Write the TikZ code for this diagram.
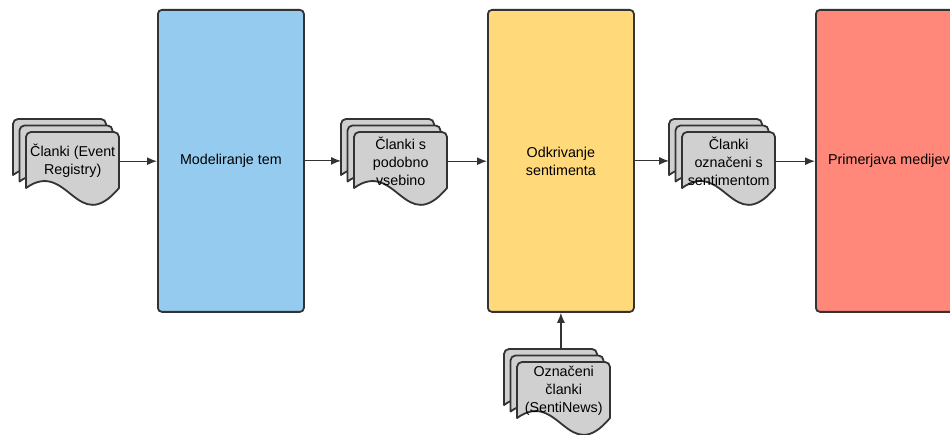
\documentclass[tikz,border=0pt]{standalone}
\usepackage{fontspec}
\setmainfont{Liberation Sans}
\usetikzlibrary{arrows,arrows.meta,positioning}
\definecolor{edge}{HTML}{333333}
\definecolor{sheetfill}{HTML}{D0D0D0}
\definecolor{blueproc}{HTML}{94CBEF}
\definecolor{yellowproc}{HTML}{FFD97A}
\definecolor{redproc}{HTML}{FF887A}
\tikzstyle{proc}=[draw=edge, line width=1.8pt, rounded corners=4pt, minimum width=146pt, minimum height=302pt, anchor=north west, align=center, inner sep=0pt]
\tikzstyle{sheet}=[draw=edge, line width=1.8pt, fill=sheetfill, line join=round]
\tikzstyle{doctext}=[minimum width=93pt, minimum height=56pt, anchor=north west, align=center, inner sep=0pt]
\tikzstyle{flow}=[->, draw=edge, line width=1.2pt]
% one sheet of a document stack, top-left corner at the current origin
\newcommand{\docsheet}{%
  \draw[sheet] (0,56) {[rounded corners=5pt] -- (0,0) -- (93,0)} -- (93,56)
    .. controls (51,106) and (42,26) .. (0,56) -- cycle;}
% stack of three sheets with text on the front one
\newcommand{\docstack}[4]{%
  \begin{scope}[shift={(#2,#3)}]
    \begin{scope}[shift={(-13,-13)}]\docsheet\end{scope}
    \begin{scope}[shift={(-6.5,-6.5)}]\docsheet\end{scope}
    \docsheet
    \node[doctext] (#1) at (0,1) {#4};
    \coordinate (#1-back) at (-13,28);
    \coordinate (#1-top) at (40,-13);
  \end{scope}}

\begin{document}
\begin{tikzpicture}[x=1pt,y=-1pt,>={Latex[length=10pt,width=8pt]},font=\fontsize{14.3}{18}\selectfont]
  \clip (0,0) rectangle (950,435);
  \useasboundingbox (0,0) rectangle (950,435);

  \node[proc, fill=blueproc] (model) at (157,9) {Modeliranje tem};
  \node[proc, fill=yellowproc] (odkr) at (487,9) {Odkrivanje\\sentimenta};
  \node[proc, fill=redproc] (prim) at (815,9) {Primerjava medijev};

  \docstack{clanki}{26}{132}{Članki (Event\\Registry)}
  \docstack{podobno}{354}{132}{Članki s\\podobno\\vsebino}
  \docstack{oznaceni}{682}{132}{Članki\\označeni s\\sentimentom}
  \docstack{senti}{517}{362}{Označeni\\članki\\(SentiNews)}

  \draw[flow] (clanki.east) -- (clanki.east -| model.west);
  \draw[flow] (model.east) -- (model.east -| podobno-back);
  \draw[flow] (podobno.east) -- (podobno.east -| odkr.west);
  \draw[flow] (odkr.east) -- (odkr.east -| oznaceni-back);
  \draw[flow] (oznaceni.east) -- (oznaceni.east -| prim.west);
  \draw[flow] (odkr.south |- senti-top) -- (odkr.south);
\end{tikzpicture}
\end{document}
